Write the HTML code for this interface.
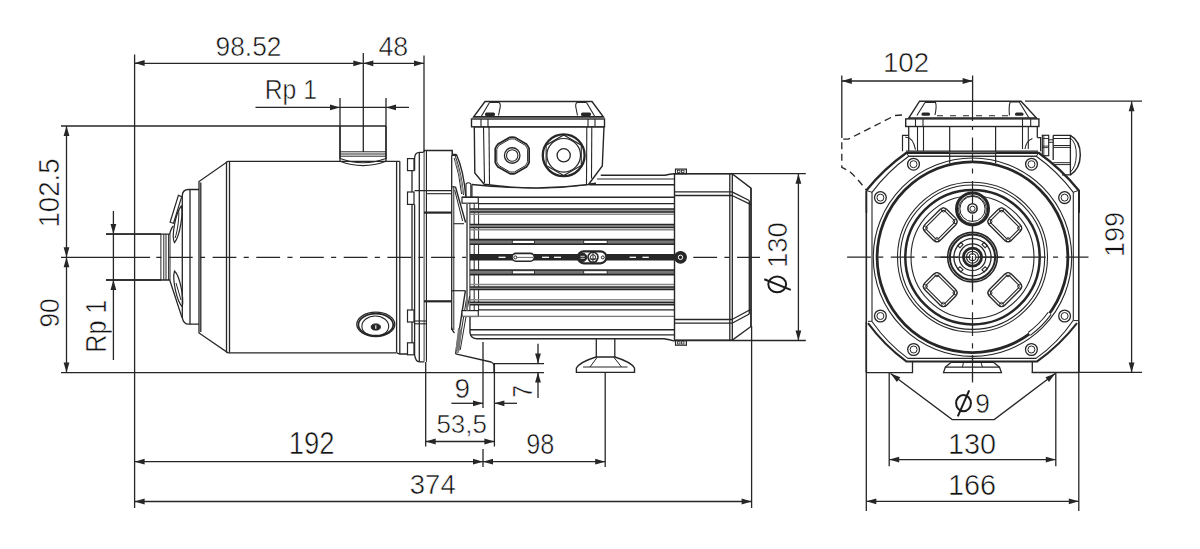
<!DOCTYPE html>
<html><head><meta charset="utf-8"><style>
html,body{margin:0;padding:0;background:#fff;}
svg{display:block;}
text{font-family:"Liberation Sans",sans-serif;fill:#111;stroke:#fff;stroke-width:0.55px;}
</style></head><body>
<svg width="1200" height="549" viewBox="0 0 1200 549">
<rect width="1200" height="549" fill="#fff"/>
<line x1="134.6" y1="54.5" x2="134.6" y2="508" stroke="#262626" stroke-width="1.3" />
<line x1="363.3" y1="53" x2="363.3" y2="152" stroke="#262626" stroke-width="1.3" />
<line x1="424" y1="55.5" x2="424" y2="152" stroke="#262626" stroke-width="1.3" />
<line x1="134.6" y1="63.3" x2="424" y2="63.3" stroke="#262626" stroke-width="1.3" />
<path d="M134.60,63.00 L144.60,60.10 L144.60,65.90 Z" fill="#262626" stroke="none"/>
<path d="M363.30,63.30 L353.30,66.20 L353.30,60.40 Z" fill="#262626" stroke="none"/>
<path d="M363.30,63.30 L373.30,60.40 L373.30,66.20 Z" fill="#262626" stroke="none"/>
<path d="M424.00,63.30 L414.00,66.20 L414.00,60.40 Z" fill="#262626" stroke="none"/>
<line x1="255.5" y1="107.4" x2="409" y2="107.4" stroke="#262626" stroke-width="1.3" />
<path d="M340.00,107.40 L330.00,110.30 L330.00,104.50 Z" fill="#262626" stroke="none"/>
<path d="M386.00,107.40 L396.00,104.50 L396.00,110.30 Z" fill="#262626" stroke="none"/>
<line x1="340" y1="98" x2="340" y2="161" stroke="#262626" stroke-width="1.3" />
<line x1="386" y1="98" x2="386" y2="161" stroke="#262626" stroke-width="1.3" />
<line x1="61" y1="126" x2="386" y2="126" stroke="#262626" stroke-width="1.3" />
<line x1="66.5" y1="126" x2="66.5" y2="372.6" stroke="#262626" stroke-width="1.3" />
<path d="M66.50,126.00 L69.40,136.00 L63.60,136.00 Z" fill="#262626" stroke="none"/>
<path d="M66.50,257.30 L63.60,247.30 L69.40,247.30 Z" fill="#262626" stroke="none"/>
<path d="M66.50,257.30 L69.40,267.30 L63.60,267.30 Z" fill="#262626" stroke="none"/>
<path d="M66.50,372.60 L63.60,362.60 L69.40,362.60 Z" fill="#262626" stroke="none"/>
<line x1="61" y1="372.6" x2="544" y2="372.6" stroke="#262626" stroke-width="1.3" />
<line x1="106" y1="234" x2="161" y2="234" stroke="#262626" stroke-width="1.3" />
<line x1="106" y1="280" x2="161" y2="280" stroke="#262626" stroke-width="1.3" />
<line x1="113.4" y1="211" x2="113.4" y2="360" stroke="#262626" stroke-width="1.3" />
<path d="M113.40,234.00 L110.50,224.00 L116.30,224.00 Z" fill="#262626" stroke="none"/>
<path d="M113.40,280.00 L116.30,290.00 L110.50,290.00 Z" fill="#262626" stroke="none"/>
<line x1="425.7" y1="362" x2="425.7" y2="446.5" stroke="#262626" stroke-width="1.3" />
<line x1="483" y1="342" x2="483" y2="408" stroke="#262626" stroke-width="1.3" />
<line x1="483" y1="449" x2="483" y2="467" stroke="#262626" stroke-width="1.3" />
<line x1="494.4" y1="363" x2="494.4" y2="446.5" stroke="#262626" stroke-width="1.3" />
<line x1="494.4" y1="363.6" x2="544" y2="363.6" stroke="#262626" stroke-width="1.3" />
<line x1="538" y1="343.7" x2="538" y2="363.6" stroke="#262626" stroke-width="1.3" />
<path d="M538.00,363.60 L535.10,353.60 L540.90,353.60 Z" fill="#262626" stroke="none"/>
<line x1="538" y1="372.6" x2="538" y2="398" stroke="#262626" stroke-width="1.3" />
<path d="M538.00,372.60 L540.90,382.60 L535.10,382.60 Z" fill="#262626" stroke="none"/>
<line x1="451.4" y1="403.3" x2="483" y2="403.3" stroke="#262626" stroke-width="1.3" />
<path d="M483.00,403.30 L473.00,406.20 L473.00,400.40 Z" fill="#262626" stroke="none"/>
<line x1="494.4" y1="403.3" x2="517" y2="403.3" stroke="#262626" stroke-width="1.3" />
<path d="M494.40,403.30 L504.40,400.40 L504.40,406.20 Z" fill="#262626" stroke="none"/>
<line x1="425.7" y1="441.5" x2="494.4" y2="441.5" stroke="#262626" stroke-width="1.3" />
<path d="M425.70,441.50 L435.70,438.60 L435.70,444.40 Z" fill="#262626" stroke="none"/>
<path d="M494.40,441.50 L484.40,444.40 L484.40,438.60 Z" fill="#262626" stroke="none"/>
<line x1="134.6" y1="461.7" x2="605.2" y2="461.7" stroke="#262626" stroke-width="1.3" />
<path d="M134.60,461.70 L144.60,458.80 L144.60,464.60 Z" fill="#262626" stroke="none"/>
<path d="M483.00,461.70 L473.00,464.60 L473.00,458.80 Z" fill="#262626" stroke="none"/>
<path d="M483.00,461.70 L493.00,458.80 L493.00,464.60 Z" fill="#262626" stroke="none"/>
<path d="M605.20,461.70 L595.20,464.60 L595.20,458.80 Z" fill="#262626" stroke="none"/>
<line x1="605.2" y1="372.4" x2="605.2" y2="467" stroke="#262626" stroke-width="1.3" />
<line x1="134.6" y1="501.5" x2="751.6" y2="501.5" stroke="#262626" stroke-width="1.3" />
<path d="M134.60,501.50 L144.60,498.60 L144.60,504.40 Z" fill="#262626" stroke="none"/>
<path d="M751.60,501.50 L741.60,504.40 L741.60,498.60 Z" fill="#262626" stroke="none"/>
<line x1="751.6" y1="326" x2="751.6" y2="508" stroke="#262626" stroke-width="1.3" />
<line x1="674.6" y1="173.7" x2="805.8" y2="173.7" stroke="#262626" stroke-width="1.3" />
<line x1="674.6" y1="340.5" x2="805.8" y2="340.5" stroke="#262626" stroke-width="1.3" />
<line x1="798.4" y1="173.7" x2="798.4" y2="340.5" stroke="#262626" stroke-width="1.3" />
<path d="M798.40,173.70 L801.30,183.70 L795.50,183.70 Z" fill="#262626" stroke="none"/>
<path d="M798.40,340.50 L795.50,330.50 L801.30,330.50 Z" fill="#262626" stroke="none"/>
<line x1="841.8" y1="75.5" x2="841.8" y2="138" stroke="#262626" stroke-width="1.3" />
<line x1="841.8" y1="81" x2="972.6" y2="81" stroke="#262626" stroke-width="1.3" />
<path d="M841.80,81.00 L851.80,78.10 L851.80,83.90 Z" fill="#262626" stroke="none"/>
<path d="M972.60,81.00 L962.60,83.90 L962.60,78.10 Z" fill="#262626" stroke="none"/>
<line x1="972.6" y1="75.5" x2="972.6" y2="101" stroke="#262626" stroke-width="1.3" />
<line x1="1025" y1="101.2" x2="1142" y2="101.2" stroke="#262626" stroke-width="1.3" />
<line x1="1031.8" y1="372.4" x2="1142" y2="372.4" stroke="#262626" stroke-width="1.3" />
<line x1="1131.6" y1="101.2" x2="1131.6" y2="372.4" stroke="#262626" stroke-width="1.3" />
<path d="M1131.60,101.20 L1134.50,111.20 L1128.70,111.20 Z" fill="#262626" stroke="none"/>
<path d="M1131.60,372.40 L1128.70,362.40 L1134.50,362.40 Z" fill="#262626" stroke="none"/>
<line x1="866.3" y1="322" x2="866.3" y2="511" stroke="#262626" stroke-width="1.3" />
<line x1="1078.8" y1="322" x2="1078.8" y2="511" stroke="#262626" stroke-width="1.3" />
<line x1="889.2" y1="372" x2="889.2" y2="466.2" stroke="#262626" stroke-width="1.3" />
<line x1="1055.8" y1="372" x2="1055.8" y2="466.2" stroke="#262626" stroke-width="1.3" />
<line x1="889.2" y1="459.6" x2="1055.8" y2="459.6" stroke="#262626" stroke-width="1.3" />
<path d="M889.20,459.60 L899.20,456.70 L899.20,462.50 Z" fill="#262626" stroke="none"/>
<path d="M1055.80,459.60 L1045.80,462.50 L1045.80,456.70 Z" fill="#262626" stroke="none"/>
<line x1="866.3" y1="501.3" x2="1078.8" y2="501.3" stroke="#262626" stroke-width="1.3" />
<path d="M866.30,501.30 L876.30,498.40 L876.30,504.20 Z" fill="#262626" stroke="none"/>
<path d="M1078.80,501.30 L1068.80,504.20 L1068.80,498.40 Z" fill="#262626" stroke="none"/>
<path d="M890.6,373.6 L952.2,419.6 L994.2,419.6 L1055.2,373.6" stroke="#262626" stroke-width="1.3" fill="none" />
<path d="M890.60,373.60 L900.35,377.26 L896.88,381.91 Z" fill="#262626" stroke="none"/>
<path d="M1055.20,373.60 L1048.96,381.94 L1045.47,377.31 Z" fill="#262626" stroke="none"/>
<text x="215.60" y="56.00" font-size="28.06" textLength="65.78" lengthAdjust="spacingAndGlyphs">98.52</text>
<text x="378.50" y="55.90" font-size="27.13" textLength="29.75" lengthAdjust="spacingAndGlyphs">48</text>
<text font-family="Liberation Mono" x="264.70" y="98.50" font-size="28.35" textLength="52.29" lengthAdjust="spacingAndGlyphs">Rp 1</text>
<text x="58.90" y="227.50" font-size="29.94" textLength="69.05" lengthAdjust="spacingAndGlyphs" transform="rotate(-90 58.90 227.50)">102.5</text>
<text x="58.90" y="327.50" font-size="28.34" textLength="29.19" lengthAdjust="spacingAndGlyphs" transform="rotate(-90 58.90 327.50)">90</text>
<text font-family="Liberation Mono" x="106.30" y="352.70" font-size="29.05" textLength="52.93" lengthAdjust="spacingAndGlyphs" transform="rotate(-90 106.30 352.70)">Rp 1</text>
<text x="454.50" y="397.50" font-size="27.16" textLength="15.57" lengthAdjust="spacingAndGlyphs">9</text>
<text x="531.60" y="397.80" font-size="27.13" textLength="12.77" lengthAdjust="spacingAndGlyphs" transform="rotate(-90 531.60 397.80)">7</text>
<text x="436.40" y="433.20" font-size="26.63" textLength="50.49" lengthAdjust="spacingAndGlyphs">53,5</text>
<text font-family="Liberation Mono" x="288.80" y="454.00" font-size="30.47" textLength="45.85" lengthAdjust="spacingAndGlyphs">192</text>
<text x="526.20" y="454.00" font-size="28.63" textLength="28.11" lengthAdjust="spacingAndGlyphs">98</text>
<text x="409.80" y="494.00" font-size="27.45" textLength="45.89" lengthAdjust="spacingAndGlyphs">374</text>
<text font-family="Liberation Mono" x="787.50" y="268.10" font-size="27.61" textLength="46.10" lengthAdjust="spacingAndGlyphs" transform="rotate(-90 787.50 268.10)">130</text>
<text font-family="Liberation Mono" x="882.90" y="71.60" font-size="27.35" textLength="46.27" lengthAdjust="spacingAndGlyphs">102</text>
<text font-family="Liberation Mono" x="1123.80" y="257.10" font-size="27.61" textLength="45.22" lengthAdjust="spacingAndGlyphs" transform="rotate(-90 1123.80 257.10)">199</text>
<text x="975.30" y="412.50" font-size="27.46" textLength="14.65" lengthAdjust="spacingAndGlyphs">9</text>
<text font-family="Liberation Mono" x="947.90" y="454.00" font-size="29.44" textLength="48.12" lengthAdjust="spacingAndGlyphs">130</text>
<text font-family="Liberation Mono" x="947.90" y="494.60" font-size="29.44" textLength="48.12" lengthAdjust="spacingAndGlyphs">166</text>
<ellipse cx="963.5" cy="403.2" rx="7.4" ry="8.1" fill="none" stroke="#1c1c1c" stroke-width="2"/>
<line x1="969.2" y1="390.3" x2="957.8" y2="416.4" stroke="#1c1c1c" stroke-width="2"/>
<ellipse cx="777.2" cy="284.3" rx="8.9" ry="7.9" fill="none" stroke="#1c1c1c" stroke-width="2"/>
<line x1="764.3" y1="279.2" x2="790.8" y2="289.9" stroke="#1c1c1c" stroke-width="2"/>
<line x1="61" y1="257.3" x2="150" y2="257.3" stroke="#262626" stroke-width="1.3" />
<line x1="150" y1="257.3" x2="760" y2="257.3" stroke="#262626" stroke-width="1.2" stroke-dasharray="23.8 7.3 5.1 7.5" stroke-dashoffset="24.8"/>
<path d="M399.8,161.3 L228,161.3 L199,181.5 L199,333 L228,352.8 L396,352.8" stroke="#262626" stroke-width="1.3" fill="none" />
<line x1="226.5" y1="161.5" x2="226.5" y2="352.6" stroke="#262626" stroke-width="1.3" />
<line x1="229.5" y1="161.3" x2="229.5" y2="352.8" stroke="#262626" stroke-width="1.3" />
<line x1="200.8" y1="182.5" x2="200.8" y2="332" stroke="#262626" stroke-width="1.3" />
<path d="M199,189.5 L188.6,189.5 Q182.3,189.5 182.3,196 L182.3,317.6 Q183.5,324.2 188.6,324.2 L199,324.2" stroke="#262626" stroke-width="1.3" fill="none" />
<line x1="190" y1="189.5" x2="190" y2="324.2" stroke="#262626" stroke-width="1.3" />
<path d="M169.7,234.2 Q171,228 173.3,225.9" stroke="#262626" stroke-width="1.3" fill="none" />
<path d="M169.7,280 L182,317.6" stroke="#262626" stroke-width="1.3" fill="none" />
<path d="M106,234.2 L170,234.2 M106,280 L170,280" stroke="#262626" stroke-width="1.3" fill="none" />
<line x1="160.9" y1="234.2" x2="160.9" y2="280" stroke="#262626" stroke-width="1.0" />
<line x1="163.8" y1="234.2" x2="163.8" y2="280" stroke="#262626" stroke-width="1.0" />
<line x1="166" y1="234.2" x2="166" y2="280" stroke="#262626" stroke-width="1.0" />
<line x1="168.6" y1="234.2" x2="168.6" y2="280" stroke="#262626" stroke-width="1.0" />
<line x1="170" y1="234.2" x2="170" y2="280" stroke="#262626" stroke-width="1.0" />
<path d="M181.3,206 C183.5,212 180,236 174.5,242.6 C171,236 176,212 181.3,206 Z" stroke="#262626" stroke-width="1.2" fill="none" />
<path d="M178.6,210 C179.5,216 177.5,232 175,238" stroke="#262626" stroke-width="1.0" fill="none" />
<path d="M178.4,195.3 L181.7,196.7 L173.5,223.3 L170.1,222.2 Z" stroke="#262626" stroke-width="1.2" fill="#fff" />
<path d="M174.5,271 C172,280 177,302 182.3,306.7 C184,298 180,276 174.5,271 Z" stroke="#262626" stroke-width="1.2" fill="none" />
<path d="M176,283 L181,300" stroke="#262626" stroke-width="1.0" fill="none" />
<line x1="340" y1="126" x2="340" y2="159" stroke="#262626" stroke-width="1.3" />
<line x1="386" y1="126" x2="386" y2="159" stroke="#262626" stroke-width="1.3" />
<line x1="340" y1="151.8" x2="386" y2="151.8" stroke="#262626" stroke-width="1.0" />
<line x1="340" y1="154" x2="386" y2="154" stroke="#262626" stroke-width="1.0" />
<line x1="340" y1="156.2" x2="386" y2="156.2" stroke="#262626" stroke-width="1.0" />
<path d="M340,158.5 Q363,167 386,158.5" stroke="#262626" stroke-width="1.2" fill="none" />
<path d="M340,161.3 Q363,170 386,161.3" stroke="#262626" stroke-width="1.2" fill="none" />
<ellipse cx="375.8" cy="324.3" rx="19" ry="12.2" stroke="#262626" stroke-width="1.3" fill="none" />
<ellipse cx="375.8" cy="324.7" rx="17.4" ry="11.0" stroke="#262626" stroke-width="1.7" fill="none" />
<ellipse cx="375.3" cy="326.2" rx="13.4" ry="10.2" stroke="#262626" stroke-width="1.1" fill="none" />
<ellipse cx="375.8" cy="327" rx="4.6" ry="3.1" stroke="#262626" stroke-width="1" fill="#262626" />
<line x1="375.8" y1="325.2" x2="375.8" y2="328.8" stroke="#fff" stroke-width="1.1" />
<line x1="396.6" y1="161.3" x2="396.6" y2="352.8" stroke="#262626" stroke-width="1.3" />
<line x1="399.8" y1="161.3" x2="399.8" y2="354" stroke="#262626" stroke-width="1.3" />
<path d="M396.6,352.8 L399.8,354 L407.5,354" stroke="#262626" stroke-width="1.3" fill="none" />
<rect x="407.5" y="158.6" width="6.5" height="12.0" rx="0" stroke="#262626" stroke-width="1.2" fill="none" />
<rect x="407.5" y="192" width="6.5" height="12.400000000000006" rx="0" stroke="#262626" stroke-width="1.2" fill="none" />
<rect x="407.5" y="310" width="6.5" height="12" rx="0" stroke="#262626" stroke-width="1.2" fill="none" />
<rect x="407.5" y="342.8" width="6.5" height="12.0" rx="0" stroke="#262626" stroke-width="1.2" fill="none" />
<path d="M414.6,170.6 L414.6,158 Q415,152.3 419.5,152.3 L423.5,152.3 L424.5,150.5 L452.3,150.5 L452.3,155.3 L456,155.3" stroke="#262626" stroke-width="1.3" fill="none" />
<path d="M414.6,204.4 L414.6,354.8 Q415.5,361.5 419.5,361.8 L424.5,361.8" stroke="#262626" stroke-width="1.3" fill="none" />
<line x1="412" y1="170.6" x2="412" y2="192" stroke="#262626" stroke-width="1.3" />
<line x1="412" y1="204.4" x2="412" y2="310" stroke="#262626" stroke-width="1.3" />
<line x1="412" y1="322" x2="412" y2="342.8" stroke="#262626" stroke-width="1.3" />
<line x1="419.3" y1="152.3" x2="419.3" y2="361.8" stroke="#262626" stroke-width="1.3" />
<line x1="424.3" y1="152" x2="424.3" y2="361" stroke="#8a8a8a" stroke-width="2"/>
<line x1="426.5" y1="150.5" x2="426.5" y2="361.8" stroke="#262626" stroke-width="1.0" />
<line x1="414.6" y1="190.6" x2="451.7" y2="190.6" stroke="#262626" stroke-width="1.1" />
<line x1="426.5" y1="193.7" x2="451.7" y2="193.7" stroke="#262626" stroke-width="1.1" />
<line x1="424" y1="212.6" x2="451.7" y2="212.6" stroke="#262626" stroke-width="2.2" />
<line x1="424" y1="301.3" x2="451.2" y2="301.3" stroke="#262626" stroke-width="2.2" />
<line x1="414.6" y1="321" x2="426.5" y2="321" stroke="#262626" stroke-width="1.1" />
<line x1="414.6" y1="323.8" x2="426.5" y2="323.8" stroke="#262626" stroke-width="1.1" />
<line x1="451.7" y1="155.3" x2="451.7" y2="330" stroke="#262626" stroke-width="1.3" />
<line x1="453.8" y1="186" x2="453.8" y2="330" stroke="#262626" stroke-width="1.0" />
<path d="M451.7,327.5 Q452,331 454.5,333" stroke="#262626" stroke-width="1.3" fill="none" />
<path d="M452.3,151.2 L452.3,154.3 L456.3,154.3" stroke="#262626" stroke-width="1.2" fill="none" />
<path d="M456.3,154.3 Q463.5,170 465.8,196.5" stroke="#262626" stroke-width="1.4" fill="none" />
<path d="M455.2,156 Q461.5,172 463.6,195" stroke="#262626" stroke-width="1.0" fill="none" />
<path d="M454.2,158 Q459.5,174 461.6,194" stroke="#262626" stroke-width="1.0" fill="none" />
<path d="M455.2,160 Q461,175 462.8,194" stroke="#999" stroke-width="1.6" fill="none"/>
<line x1="451.6" y1="186.9" x2="455.5" y2="186.9" stroke="#262626" stroke-width="1.1" />
<path d="M455.5,186.9 L465.6,222.5" stroke="#262626" stroke-width="1.4" fill="none" />
<path d="M454.7,190 L462.6,221" stroke="#262626" stroke-width="1.0" fill="none" />
<line x1="453.8" y1="223.7" x2="464" y2="223.7" stroke="#262626" stroke-width="1.1" />
<line x1="451.2" y1="290.7" x2="465.4" y2="290.7" stroke="#262626" stroke-width="1.2" />
<path d="M465.4,290.7 L455.6,353.8" stroke="#262626" stroke-width="1.4" fill="none" />
<path d="M467.6,292 L457.8,353" stroke="#262626" stroke-width="1.0" fill="none" />
<path d="M469.6,296 L460.2,350" stroke="#262626" stroke-width="1.0" fill="none" />
<path d="M458,328 L455.5,350 L459.5,351 L462,330 Z" fill="#777" stroke="none"/>
<path d="M455.6,353.8 L491,362 Q494,363 494,366 L494,373" stroke="#262626" stroke-width="1.3" fill="none" />
<path d="M466,197.3 L466,184 Q468.4,181.5 470.8,184 L470.8,197.3" stroke="#262626" stroke-width="1.1" fill="none" />
<rect x="462" y="197.3" width="16.3" height="5.9" rx="0" stroke="#262626" stroke-width="1.2" fill="#fff" />
<rect x="462" y="310.6" width="16.3" height="5.9" rx="0" stroke="#262626" stroke-width="1.2" fill="#fff" />
<line x1="467" y1="203.2" x2="467" y2="310.6" stroke="#777" stroke-width="2" />
<line x1="469.9" y1="203.2" x2="469.9" y2="310.6" stroke="#262626" stroke-width="1.0" />
<line x1="474.2" y1="203.2" x2="474.2" y2="310.6" stroke="#262626" stroke-width="1.0" />
<line x1="478.6" y1="203.2" x2="478.6" y2="310.6" stroke="#262626" stroke-width="1.0" />
<line x1="471.9" y1="184.5" x2="471.9" y2="197.3" stroke="#262626" stroke-width="1.3" />
<line x1="462" y1="197.3" x2="674.5" y2="197.3" stroke="#262626" stroke-width="1.4" />
<line x1="478.3" y1="203.7" x2="674.5" y2="203.7" stroke="#262626" stroke-width="1.2" />
<line x1="478.3" y1="309.8" x2="674.5" y2="309.8" stroke="#262626" stroke-width="1.3" />
<line x1="462" y1="316.4" x2="674.5" y2="316.4" stroke="#777" stroke-width="1.4" />
<rect x="469.9" y="209.1" width="204.60000000000002" height="3.2" fill="#9a9a9a"/>
<line x1="469.9" y1="209.1" x2="674.5" y2="209.1" stroke="#262626" stroke-width="1.5"/>
<line x1="469.9" y1="212.1" x2="674.5" y2="212.1" stroke="#262626" stroke-width="1.5"/>
<line x1="469.9" y1="214.29999999999998" x2="674.5" y2="214.29999999999998" stroke="#8a8a8a" stroke-width="1.5"/>
<rect x="469.9" y="224.6" width="204.60000000000002" height="3.2" fill="#9a9a9a"/>
<line x1="469.9" y1="224.6" x2="674.5" y2="224.6" stroke="#262626" stroke-width="1.5"/>
<line x1="469.9" y1="227.6" x2="674.5" y2="227.6" stroke="#262626" stroke-width="1.5"/>
<line x1="469.9" y1="229.79999999999998" x2="674.5" y2="229.79999999999998" stroke="#8a8a8a" stroke-width="1.5"/>
<rect x="469.9" y="239.6" width="204.60000000000002" height="4.6" fill="#777"/>
<line x1="469.9" y1="239.6" x2="674.5" y2="239.6" stroke="#262626" stroke-width="1.6"/>
<line x1="469.9" y1="244.2" x2="674.5" y2="244.2" stroke="#262626" stroke-width="1.6"/>
<rect x="469.9" y="270.0" width="204.60000000000002" height="4.6" fill="#777"/>
<line x1="469.9" y1="270.0" x2="674.5" y2="270.0" stroke="#262626" stroke-width="1.6"/>
<line x1="469.9" y1="274.6" x2="674.5" y2="274.6" stroke="#262626" stroke-width="1.6"/>
<rect x="469.9" y="287.0" width="204.60000000000002" height="2.5" fill="#9a9a9a"/>
<line x1="469.9" y1="284.4" x2="674.5" y2="284.4" stroke="#8a8a8a" stroke-width="1.5"/>
<line x1="469.9" y1="287.0" x2="674.5" y2="287.0" stroke="#262626" stroke-width="1.5"/>
<line x1="469.9" y1="289.5" x2="674.5" y2="289.5" stroke="#262626" stroke-width="1.5"/>
<rect x="469.9" y="302.3" width="204.60000000000002" height="2.5" fill="#9a9a9a"/>
<line x1="469.9" y1="299.7" x2="674.5" y2="299.7" stroke="#8a8a8a" stroke-width="1.5"/>
<line x1="469.9" y1="302.3" x2="674.5" y2="302.3" stroke="#262626" stroke-width="1.5"/>
<line x1="469.9" y1="304.8" x2="674.5" y2="304.8" stroke="#262626" stroke-width="1.5"/>
<rect x="469.9" y="254" width="204.60000000000002" height="6.5" fill="#262626"/>
<rect x="512.3" y="240.3" width="22.200000000000045" height="3.2" fill="#fff" stroke="#262626" stroke-width="0.9"/>
<rect x="583.7" y="240.3" width="23.5" height="3.2" fill="#fff" stroke="#262626" stroke-width="0.9"/>
<rect x="512.3" y="270.7" width="22.200000000000045" height="3.2" fill="#fff" stroke="#262626" stroke-width="0.9"/>
<rect x="583.7" y="270.7" width="23.5" height="3.2" fill="#fff" stroke="#262626" stroke-width="0.9"/>
<line x1="498.5" y1="257.3" x2="505.5" y2="257.3" stroke="#fff" stroke-width="1.3"/>
<line x1="542" y1="257.3" x2="549" y2="257.3" stroke="#fff" stroke-width="1.3"/>
<line x1="554" y1="257.3" x2="561" y2="257.3" stroke="#fff" stroke-width="1.3"/>
<line x1="629.6" y1="257.3" x2="636" y2="257.3" stroke="#fff" stroke-width="1.3"/>
<line x1="642.4" y1="257.3" x2="648.8" y2="257.3" stroke="#fff" stroke-width="1.3"/>
<rect x="512" y="253.4" width="22.3" height="7.8" rx="3.9" fill="#fff" stroke="#262626" stroke-width="1.6"/>
<circle cx="515.3" cy="257.4" r="1.5" stroke="#262626" stroke-width="1" fill="none" />
<line x1="517" y1="257.4" x2="533" y2="257.4" stroke="#555" stroke-width="0.9" />
<rect x="577.8" y="251.3" width="28.6" height="12" rx="6" fill="#fff" stroke="#262626" stroke-width="2.2"/>
<circle cx="582.6" cy="257.3" r="4.2" stroke="#262626" stroke-width="1" fill="#262626" />
<line x1="580.5" y1="256.3" x2="584.7" y2="256.3" stroke="#fff" stroke-width="0.8" />
<line x1="580.5" y1="258.3" x2="584.7" y2="258.3" stroke="#fff" stroke-width="0.8" />
<circle cx="593" cy="257.3" r="5.0" stroke="#262626" stroke-width="1.6" fill="none" />
<circle cx="593" cy="257.3" r="2.6" stroke="#262626" stroke-width="1.0" fill="none" />
<line x1="593" y1="252.5" x2="593" y2="262" stroke="#262626" stroke-width="0.9" />
<line x1="588.5" y1="259" x2="597.5" y2="259" stroke="#262626" stroke-width="0.9" />
<circle cx="602.8" cy="257.4" r="1.5" stroke="#262626" stroke-width="1" fill="none" />
<circle cx="680.5" cy="257.3" r="5.8" stroke="#262626" stroke-width="1.2" fill="#262626" />
<circle cx="680.5" cy="257.3" r="2.2" stroke="#fff" stroke-width="1" fill="none" />
<path d="M471.9,184.5 Q536,191.5 596,183.3" stroke="#262626" stroke-width="1.4" fill="none" />
<line x1="589.3" y1="184.8" x2="674.5" y2="184.8" stroke="#262626" stroke-width="1.6" />
<line x1="597" y1="179" x2="674.5" y2="179" stroke="#262626" stroke-width="1.2" />
<path d="M600.8,175.2 L665,175.2 Q670,174 674.5,173.7" stroke="#262626" stroke-width="1.4" fill="none" />
<line x1="470" y1="329.7" x2="674.5" y2="329.7" stroke="#262626" stroke-width="1.6" />
<line x1="470" y1="334.8" x2="674.5" y2="334.8" stroke="#262626" stroke-width="1.2" />
<path d="M470,317 L470,333 Q471,338.7 477,338.7 L664,338.7 Q670,339.5 674.5,341.2" stroke="#262626" stroke-width="1.4" fill="none" />
<path d="M674.5,173.7 L732,173.7 L751,188.2 L751,326.5 L732,340.2 L674.5,340.2 Z" stroke="#262626" stroke-width="1.4" fill="none" />
<line x1="729.8" y1="173.7" x2="729.8" y2="340.2" stroke="#262626" stroke-width="1.3" />
<line x1="732.3" y1="173.7" x2="732.3" y2="340.2" stroke="#262626" stroke-width="1.3" />
<line x1="674.5" y1="191.9" x2="732" y2="191.9" stroke="#262626" stroke-width="1.3" />
<line x1="674.5" y1="195.5" x2="732" y2="195.5" stroke="#262626" stroke-width="1.3" />
<line x1="674.5" y1="319.5" x2="732" y2="319.5" stroke="#262626" stroke-width="1.3" />
<line x1="674.5" y1="323.2" x2="732" y2="323.2" stroke="#262626" stroke-width="1.3" />
<path d="M732,195.5 L751,204.6" stroke="#262626" stroke-width="1.3" fill="none" />
<path d="M732,191.9 L749.3,200.5" stroke="#262626" stroke-width="1.3" fill="none" />
<path d="M732,319.5 L751,309.2" stroke="#262626" stroke-width="1.3" fill="none" />
<path d="M732,323.2 L749.3,314" stroke="#262626" stroke-width="1.3" fill="none" />
<line x1="749.3" y1="200.5" x2="749.3" y2="314" stroke="#262626" stroke-width="1.3" />
<line x1="751" y1="188.2" x2="751" y2="326.5" stroke="#262626" stroke-width="1.3" />
<rect x="675.5" y="169.1" width="10.9" height="4.6" rx="0" stroke="#262626" stroke-width="1.2" fill="none" />
<rect x="675.5" y="340.6" width="10.9" height="4.6" rx="0" stroke="#262626" stroke-width="1.2" fill="none" />
<rect x="677.5" y="170.3" width="2.5" height="2.2" rx="0" stroke="#262626" stroke-width="0.8" fill="none" />
<rect x="681.5" y="170.3" width="2.5" height="2.2" rx="0" stroke="#262626" stroke-width="0.8" fill="none" />
<rect x="677.5" y="341.8" width="2.5" height="2.2" rx="0" stroke="#262626" stroke-width="0.8" fill="none" />
<rect x="681.5" y="341.8" width="2.5" height="2.2" rx="0" stroke="#262626" stroke-width="0.8" fill="none" />
<line x1="596.3" y1="338.7" x2="596.3" y2="357" stroke="#262626" stroke-width="1.3" />
<line x1="614.8" y1="338.7" x2="614.8" y2="357" stroke="#262626" stroke-width="1.3" />
<path d="M576.4,372.4 L576.4,368 Q580,362 596,357 L614.8,357 Q631,362 634.5,368 L634.5,372.4 Z" stroke="#262626" stroke-width="1.4" fill="none" />
<line x1="583" y1="367" x2="627.5" y2="367" stroke="#262626" stroke-width="1.1" />
<line x1="597" y1="357.5" x2="590" y2="367" stroke="#262626" stroke-width="1.0" />
<line x1="614" y1="357.5" x2="621.5" y2="367" stroke="#262626" stroke-width="1.0" />
<path d="M474.3,126.8 L474.8,173 L484.2,184.3 Q536,191.5 588.5,184.5 L602.3,166 L604,126.8 Z" stroke="#262626" stroke-width="1.4" fill="#fff" />
<path d="M485,101.5 L592,101.5 L603.5,117 L473.5,117 Z" stroke="#262626" stroke-width="1.4" fill="#fff" />
<rect x="471.5" y="119" width="133" height="7.8" rx="0" stroke="#262626" stroke-width="1.4" fill="#fff" />
<line x1="473.5" y1="116.5" x2="603.5" y2="116.5" stroke="#262626" stroke-width="1.2" />
<line x1="481" y1="119" x2="481" y2="126.8" stroke="#262626" stroke-width="1.1" />
<line x1="488" y1="119" x2="488" y2="126.8" stroke="#262626" stroke-width="1.1" />
<line x1="588" y1="119" x2="588" y2="126.8" stroke="#262626" stroke-width="1.1" />
<line x1="595" y1="119" x2="595" y2="126.8" stroke="#262626" stroke-width="1.1" />
<path d="M489.5,102.5 L481.5,116" stroke="#262626" stroke-width="1.1" fill="none" />
<path d="M489.5,102.5 L499,102.5 Q501,104 500,108 L498.5,115.5" stroke="#262626" stroke-width="1.1" fill="none" />
<rect x="485" y="112.5" width="10" height="3.5" rx="1.5" fill="#262626"/>
<path d="M586.5,102.5 L594.5,116" stroke="#262626" stroke-width="1.1" fill="none" />
<path d="M586.5,102.5 L577,102.5 Q575,104 576,108 L577.5,115.5" stroke="#262626" stroke-width="1.1" fill="none" />
<rect x="581" y="112.5" width="10" height="3.5" rx="1.5" fill="#262626"/>
<line x1="483.5" y1="126.8" x2="484.5" y2="183" stroke="#262626" stroke-width="1.1" />
<line x1="489" y1="126.8" x2="489.5" y2="184.5" stroke="#262626" stroke-width="1.1" />
<line x1="586.8" y1="126.8" x2="586.5" y2="184.8" stroke="#262626" stroke-width="1.1" />
<line x1="591.8" y1="126.8" x2="591.5" y2="178.5" stroke="#262626" stroke-width="1.1" />
<path d="M509.64,173.62 L497.79,166.78 A18.3,18.3 0 0 1 495.23,162.34 L495.23,162.34 L495.23,148.66 A18.3,18.3 0 0 1 497.79,144.22 L497.79,144.22 L509.64,137.38 A18.3,18.3 0 0 1 514.76,137.38 L514.76,137.38 L526.61,144.22 A18.3,18.3 0 0 1 529.17,148.66 L529.17,148.66 L529.17,162.34 A18.3,18.3 0 0 1 526.61,166.78 L526.61,166.78 L514.76,173.62 A18.3,18.3 0 0 1 509.64,173.62 Z" stroke="#262626" stroke-width="1.7" fill="none" />
<path d="M509.83,171.93 L499.16,165.77 A16.6,16.6 0 0 1 496.78,161.66 L496.78,161.66 L496.78,149.34 A16.6,16.6 0 0 1 499.16,145.23 L499.16,145.23 L509.83,139.07 A16.6,16.6 0 0 1 514.57,139.07 L514.57,139.07 L525.24,145.23 A16.6,16.6 0 0 1 527.62,149.34 L527.62,149.34 L527.62,161.66 A16.6,16.6 0 0 1 525.24,165.77 L525.24,165.77 L514.57,171.93 A16.6,16.6 0 0 1 509.83,171.93 Z" stroke="#262626" stroke-width="1.0" fill="none" />
<circle cx="512.2" cy="155.5" r="7.75" stroke="#262626" stroke-width="1.3" fill="none" />
<circle cx="512.2" cy="155.5" r="5.7" stroke="#262626" stroke-width="1.1" fill="none" />
<circle cx="563.7" cy="155.3" r="20.9" stroke="#262626" stroke-width="2.3" fill="none" />
<path d="M563.70,175.60 L546.12,165.45 L546.12,145.15 L563.70,135.00 L581.28,145.15 L581.28,165.45 Z" stroke="#262626" stroke-width="1.1" fill="none" />
<circle cx="563.7" cy="155.3" r="16.8" stroke="#262626" stroke-width="1.2" fill="none" />
<circle cx="563.7" cy="155.3" r="6.6" stroke="#262626" stroke-width="1.3" fill="none" />
<line x1="847.1" y1="257.2" x2="1088.5" y2="257.2" stroke="#262626" stroke-width="1.2" stroke-dasharray="23.8 7.3 5.1 7.5" stroke-dashoffset="0"/>
<line x1="972.5" y1="121" x2="972.5" y2="382.5" stroke="#262626" stroke-width="1.2" stroke-dasharray="23.8 7.3 5.1 7.5" stroke-dashoffset="27.3"/>
<path d="M866.3,190.5 Q883.85,168.75 906.5,152.8 L1038.5,152.8 Q1061.1,168.75 1078.8,190.5" stroke="#262626" stroke-width="2.3" fill="none" />
<line x1="866.3" y1="190.5" x2="866.3" y2="372.6" stroke="#262626" stroke-width="1.6" />
<line x1="1078.8" y1="190.5" x2="1078.8" y2="372.6" stroke="#262626" stroke-width="1.6" />
<path d="M868,323.1 Q884,345 906.3,361.4 L1037.2,361.4 Q1060,345 1077,323.1" stroke="#262626" stroke-width="2.0" fill="none" />
<path d="M872,321.5 L872,192.3 Q887.6,171.35 908.7,156.2 L1036.3,156.2 Q1057.55,171.35 1073.3,192.3 L1073.3,320.3" stroke="#262626" stroke-width="1.1" fill="none" />
<line x1="866.7" y1="190.5" x2="872" y2="192.3" stroke="#262626" stroke-width="1" />
<line x1="906.5" y1="152.8" x2="908.7" y2="156.2" stroke="#262626" stroke-width="1" />
<line x1="1038.5" y1="152.8" x2="1036.3" y2="156.2" stroke="#262626" stroke-width="1" />
<line x1="1078.2" y1="190.5" x2="1073.3" y2="192.3" stroke="#262626" stroke-width="1" />
<path d="M872,321.5 Q887,343 907.9,358.4 L1036,358.4 Q1058,343 1073.3,320.3" stroke="#262626" stroke-width="1.1" fill="none" />
<line x1="868" y1="321.3" x2="872" y2="321.3" stroke="#262626" stroke-width="1" />
<line x1="1073.3" y1="320.6" x2="1078" y2="320.6" stroke="#262626" stroke-width="1" />
<path d="M866.3,372.6 L912.5,372.6 L912.5,361.4" stroke="#262626" stroke-width="1.3" fill="none" />
<path d="M1078.8,372.6 L1032.3,372.6 L1032.3,361.4" stroke="#262626" stroke-width="1.3" fill="none" />
<circle cx="913.5" cy="164.2" r="5.9" stroke="#262626" stroke-width="1.3" fill="none" />
<circle cx="913.5" cy="164.2" r="3.5" stroke="#262626" stroke-width="1.0" fill="none" />
<circle cx="1031.5" cy="164.2" r="5.9" stroke="#262626" stroke-width="1.3" fill="none" />
<circle cx="1031.5" cy="164.2" r="3.5" stroke="#262626" stroke-width="1.0" fill="none" />
<circle cx="880.4" cy="197.6" r="5.9" stroke="#262626" stroke-width="1.3" fill="none" />
<circle cx="880.4" cy="197.6" r="3.5" stroke="#262626" stroke-width="1.0" fill="none" />
<circle cx="1064.6" cy="197.6" r="5.9" stroke="#262626" stroke-width="1.3" fill="none" />
<circle cx="1064.6" cy="197.6" r="3.5" stroke="#262626" stroke-width="1.0" fill="none" />
<circle cx="880.4" cy="316" r="5.9" stroke="#262626" stroke-width="1.3" fill="none" />
<circle cx="880.4" cy="316" r="3.5" stroke="#262626" stroke-width="1.0" fill="none" />
<circle cx="1064.6" cy="316" r="5.9" stroke="#262626" stroke-width="1.3" fill="none" />
<circle cx="1064.6" cy="316" r="3.5" stroke="#262626" stroke-width="1.0" fill="none" />
<circle cx="913.6" cy="349.5" r="5.9" stroke="#262626" stroke-width="1.3" fill="none" />
<circle cx="913.6" cy="349.5" r="3.5" stroke="#262626" stroke-width="1.0" fill="none" />
<circle cx="1031.4" cy="349.5" r="5.9" stroke="#262626" stroke-width="1.3" fill="none" />
<circle cx="1031.4" cy="349.5" r="3.5" stroke="#262626" stroke-width="1.0" fill="none" />
<circle cx="972.5" cy="257.2" r="99.2" stroke="#262626" stroke-width="1.1" fill="none" />
<circle cx="972.5" cy="257.2" r="95.4" stroke="#262626" stroke-width="2.8" fill="none" />
<circle cx="972.5" cy="257.2" r="75" stroke="#262626" stroke-width="1.1" fill="none" />
<circle cx="972.5" cy="257.2" r="72.2" stroke="#262626" stroke-width="1.1" fill="none" />
<circle cx="972.5" cy="257.2" r="67.2" stroke="#262626" stroke-width="2.5" fill="none" />
<circle cx="972.5" cy="257.2" r="61.5" stroke="#262626" stroke-width="1.1" fill="none" />
<path d="M1049.68,313.27 A95.4,95.4 0 0 1 1029.25,333.89" stroke="#fff" stroke-width="3.6" fill="none" />
<path d="M1048.22,312.22 A93.6,93.6 0 0 1 1028.18,332.44" stroke="#262626" stroke-width="1.1" fill="none" />
<path d="M1051.14,314.33 A97.2,97.2 0 0 1 1030.32,335.33" stroke="#262626" stroke-width="1.1" fill="none" />
<g transform="translate(940.2 224.8) rotate(-45)"><rect x="-15.6" y="-11" width="31.2" height="22" rx="4.5" fill="none" stroke="#262626" stroke-width="1.3"/><rect x="-13.1" y="-8.5" width="26.2" height="17" rx="2.5" fill="none" stroke="#262626" stroke-width="1.1"/><circle cx="-12.8" cy="-8.2" r="2" fill="none" stroke="#262626" stroke-width="0.9"/><circle cx="12.8" cy="8.2" r="2" fill="none" stroke="#262626" stroke-width="0.9"/><circle cx="12.8" cy="-8.2" r="2" fill="none" stroke="#262626" stroke-width="0.9"/><circle cx="-12.8" cy="8.2" r="2" fill="none" stroke="#262626" stroke-width="0.9"/></g>
<g transform="translate(1004.8 224.8) rotate(45)"><rect x="-15.6" y="-11" width="31.2" height="22" rx="4.5" fill="none" stroke="#262626" stroke-width="1.3"/><rect x="-13.1" y="-8.5" width="26.2" height="17" rx="2.5" fill="none" stroke="#262626" stroke-width="1.1"/><circle cx="-12.8" cy="-8.2" r="2" fill="none" stroke="#262626" stroke-width="0.9"/><circle cx="12.8" cy="8.2" r="2" fill="none" stroke="#262626" stroke-width="0.9"/><circle cx="12.8" cy="-8.2" r="2" fill="none" stroke="#262626" stroke-width="0.9"/><circle cx="-12.8" cy="8.2" r="2" fill="none" stroke="#262626" stroke-width="0.9"/></g>
<g transform="translate(940.2 289.6) rotate(45)"><rect x="-15.6" y="-11" width="31.2" height="22" rx="4.5" fill="none" stroke="#262626" stroke-width="1.3"/><rect x="-13.1" y="-8.5" width="26.2" height="17" rx="2.5" fill="none" stroke="#262626" stroke-width="1.1"/><circle cx="-12.8" cy="-8.2" r="2" fill="none" stroke="#262626" stroke-width="0.9"/><circle cx="12.8" cy="8.2" r="2" fill="none" stroke="#262626" stroke-width="0.9"/><circle cx="12.8" cy="-8.2" r="2" fill="none" stroke="#262626" stroke-width="0.9"/><circle cx="-12.8" cy="8.2" r="2" fill="none" stroke="#262626" stroke-width="0.9"/></g>
<g transform="translate(1004.8 289.6) rotate(-45)"><rect x="-15.6" y="-11" width="31.2" height="22" rx="4.5" fill="none" stroke="#262626" stroke-width="1.3"/><rect x="-13.1" y="-8.5" width="26.2" height="17" rx="2.5" fill="none" stroke="#262626" stroke-width="1.1"/><circle cx="-12.8" cy="-8.2" r="2" fill="none" stroke="#262626" stroke-width="0.9"/><circle cx="12.8" cy="8.2" r="2" fill="none" stroke="#262626" stroke-width="0.9"/><circle cx="12.8" cy="-8.2" r="2" fill="none" stroke="#262626" stroke-width="0.9"/><circle cx="-12.8" cy="8.2" r="2" fill="none" stroke="#262626" stroke-width="0.9"/></g>
<circle cx="972.5" cy="208.9" r="16.0" stroke="#262626" stroke-width="3.0" fill="#fff" />
<circle cx="972.5" cy="209.6" r="14.0" stroke="#262626" stroke-width="1.0" fill="none" />
<circle cx="972.5" cy="208.9" r="12.6" stroke="#262626" stroke-width="1.0" fill="none" />
<line x1="972.5" y1="192" x2="972.5" y2="203" stroke="#262626" stroke-width="1.2" />
<line x1="972.5" y1="214.5" x2="972.5" y2="221.5" stroke="#262626" stroke-width="1.2" />
<circle cx="972.5" cy="208.4" r="4.6" stroke="#262626" stroke-width="1.6" fill="#fff" />
<circle cx="972.5" cy="208.8" r="2.6" stroke="#262626" stroke-width="1" fill="none" />
<circle cx="972.5" cy="257.2" r="24.8" stroke="#262626" stroke-width="1.6" fill="none" />
<circle cx="972.5" cy="257.2" r="22.6" stroke="#262626" stroke-width="2.0" fill="none" />
<circle cx="972.5" cy="257.2" r="18.6" stroke="#262626" stroke-width="1.3" fill="none" />
<circle cx="972.5" cy="257.2" r="13.3" stroke="#262626" stroke-width="1.2" fill="none" />
<circle cx="972.5" cy="257.2" r="9.0" stroke="#262626" stroke-width="2.8" fill="none" />
<circle cx="972.5" cy="257.2" r="6.0" stroke="#262626" stroke-width="1.1" fill="none" />
<circle cx="972.5" cy="257.2" r="3.6" stroke="#262626" stroke-width="1.0" fill="none" />
<g transform="translate(972.5 257.2) rotate(45)"><rect x="15.6" y="-2.2" width="3.2" height="4.4" fill="none" stroke="#262626" stroke-width="1.1"/></g>
<g transform="translate(972.5 257.2) rotate(135)"><rect x="15.6" y="-2.2" width="3.2" height="4.4" fill="none" stroke="#262626" stroke-width="1.1"/></g>
<g transform="translate(972.5 257.2) rotate(225)"><rect x="15.6" y="-2.2" width="3.2" height="4.4" fill="none" stroke="#262626" stroke-width="1.1"/></g>
<g transform="translate(972.5 257.2) rotate(315)"><rect x="15.6" y="-2.2" width="3.2" height="4.4" fill="none" stroke="#262626" stroke-width="1.1"/></g>
<line x1="940.5" y1="257.2" x2="970.3" y2="257.2" stroke="#262626" stroke-width="1.2" />
<line x1="974.7" y1="257.2" x2="1004.5" y2="257.2" stroke="#262626" stroke-width="1.2" />
<line x1="972.5" y1="224.2" x2="972.5" y2="255.0" stroke="#262626" stroke-width="1.2" />
<line x1="972.5" y1="259.4" x2="972.5" y2="290.2" stroke="#262626" stroke-width="1.2" />
<path d="M943.5,372.6 L945.3,367.2 L951.1,362.3 L993.4,362.3 L999.5,367.2 L1001.4,372.6 Z" stroke="#262626" stroke-width="1.3" fill="#fff" />
<line x1="945.3" y1="367.2" x2="999.5" y2="367.2" stroke="#262626" stroke-width="1.2" />
<line x1="963.5" y1="362.3" x2="962.4" y2="367.2" stroke="#262626" stroke-width="1" />
<line x1="981" y1="362.3" x2="982.4" y2="367.2" stroke="#262626" stroke-width="1" />
<line x1="972.5" y1="355" x2="972.5" y2="382.5" stroke="#262626" stroke-width="1.2" />
<path d="M919.6,101.2 L1021,101.2 L1036.5,118 L908.7,118 Z" stroke="#262626" stroke-width="1.4" fill="#fff" />
<rect x="905.7" y="118.9" width="133.2" height="7.6" rx="0" stroke="#262626" stroke-width="1.4" fill="#fff" />
<line x1="915.5" y1="118.9" x2="915.5" y2="126.5" stroke="#262626" stroke-width="1.1" />
<line x1="923" y1="118.9" x2="923" y2="126.5" stroke="#262626" stroke-width="1.1" />
<line x1="1022.5" y1="118.9" x2="1022.5" y2="126.5" stroke="#262626" stroke-width="1.1" />
<line x1="1030.7" y1="118.9" x2="1030.7" y2="126.5" stroke="#262626" stroke-width="1.1" />
<line x1="908.7" y1="126.5" x2="908.7" y2="151" stroke="#262626" stroke-width="1.3" />
<line x1="1037.3" y1="126.5" x2="1037.3" y2="137.6" stroke="#262626" stroke-width="1.3" />
<line x1="917.5" y1="126.5" x2="917.5" y2="151" stroke="#262626" stroke-width="1.1" />
<line x1="923.5" y1="126.5" x2="923.5" y2="151" stroke="#262626" stroke-width="1.1" />
<line x1="1022.5" y1="126.5" x2="1022.5" y2="149" stroke="#262626" stroke-width="1.1" />
<line x1="1028.3" y1="126.5" x2="1028.3" y2="149" stroke="#262626" stroke-width="1.1" />
<line x1="937" y1="115.8" x2="1009" y2="115.8" stroke="#262626" stroke-width="1.1" stroke-dasharray="6 7"/>
<path d="M925,102.5 L916.9,115.5" stroke="#262626" stroke-width="1.1" fill="none" />
<path d="M925,102.5 L935.5,102.5 Q937,106 935,115" stroke="#262626" stroke-width="1.1" fill="none" />
<path d="M1019.3,102 L1029,118" stroke="#262626" stroke-width="1.1" fill="none" />
<path d="M1019.3,102 L1010.2,102 Q1008.5,106 1009.5,115.5" stroke="#262626" stroke-width="1.1" fill="none" />
<rect x="921.5" y="112.5" width="8.5" height="3.2" rx="1.5" fill="#262626"/>
<rect x="1015" y="112.5" width="8.5" height="3.2" rx="1.5" fill="#262626"/>
<line x1="949.7" y1="126.5" x2="949.7" y2="163.5" stroke="#262626" stroke-width="1.2" />
<line x1="995.6" y1="126.5" x2="995.6" y2="163.5" stroke="#262626" stroke-width="1.2" />
<rect x="949.7" y="151.6" width="45.9" height="2.6" fill="#777"/>
<line x1="906" y1="151.2" x2="1038" y2="151.2" stroke="#262626" stroke-width="1.3" />
<line x1="906" y1="153.3" x2="1038" y2="153.3" stroke="#262626" stroke-width="1.2" />
<line x1="908.7" y1="156.3" x2="1036.3" y2="156.3" stroke="#262626" stroke-width="1.1" />
<path d="M908.7,135.3 L902.5,135.3 L902.5,151.2" stroke="#262626" stroke-width="1.2" fill="none" />
<path d="M905.2,137.3 Q912.8,136.5 915.5,149.6" stroke="#262626" stroke-width="1.1" fill="none" />
<path d="M1037.3,137.6 L1040.6,137.6 L1040.6,151.2" stroke="#262626" stroke-width="1.2" fill="none" />
<path d="M1032.4,138.4 Q1026,141 1025,149" stroke="#262626" stroke-width="1.1" fill="none" />
<rect x="1042.3" y="135.3" width="6.4" height="20.4" rx="0" stroke="#262626" stroke-width="1.2" fill="none" />
<line x1="1043.8" y1="135.3" x2="1043.8" y2="155.7" stroke="#262626" stroke-width="0.9" />
<line x1="1042.3" y1="138.5" x2="1048.7" y2="138.5" stroke="#262626" stroke-width="0.9" />
<line x1="1042.3" y1="146.1" x2="1048.7" y2="146.1" stroke="#262626" stroke-width="0.9" />
<line x1="1042.3" y1="147.6" x2="1048.7" y2="147.6" stroke="#262626" stroke-width="0.9" />
<line x1="1048.7" y1="139.8" x2="1053.2" y2="139.8" stroke="#262626" stroke-width="1" />
<line x1="1048.7" y1="142.3" x2="1053.2" y2="142.3" stroke="#262626" stroke-width="1" />
<path d="M1053.2,135.3 L1070.4,135.3 L1070.4,174.8 L1062,174.8" stroke="#262626" stroke-width="1.3" fill="none" />
<line x1="1053.2" y1="135.3" x2="1053.2" y2="160" stroke="#262626" stroke-width="1.3" />
<line x1="1053.2" y1="138.5" x2="1070.4" y2="138.5" stroke="#262626" stroke-width="1" />
<line x1="1053.2" y1="145.5" x2="1070.4" y2="145.5" stroke="#262626" stroke-width="1" />
<line x1="1053.2" y1="147.4" x2="1070.4" y2="147.4" stroke="#262626" stroke-width="1" />
<line x1="1053.2" y1="162.7" x2="1070.4" y2="162.7" stroke="#262626" stroke-width="1" />
<line x1="1053.2" y1="164.6" x2="1070.4" y2="164.6" stroke="#262626" stroke-width="1" />
<path d="M1070.4,135.3 Q1080.5,141 1080.3,155 Q1080,169 1070.4,174.8" stroke="#262626" stroke-width="1.5" fill="none" />
<path d="M1070.4,138 Q1076.5,143 1076.3,155 Q1076,167 1070.4,172" stroke="#262626" stroke-width="1.0" fill="none" />
<path d="M902,115 L895,115.5 L848.2,139.2 L841.8,139.2 L841.8,167.4 L849,171 Q857,178 866.4,190.2" fill="none" stroke="#262626" stroke-width="1.3" stroke-dasharray="7 4.5"/>
<line x1="866.4" y1="191" x2="866.4" y2="212.8" stroke="#262626" stroke-width="1.6" />
<line x1="1079.2" y1="190" x2="1079.2" y2="212.8" stroke="#262626" stroke-width="1.6" />
<line x1="972.5" y1="101" x2="972.5" y2="121" stroke="#262626" stroke-width="1.2" />
</svg></body></html>
